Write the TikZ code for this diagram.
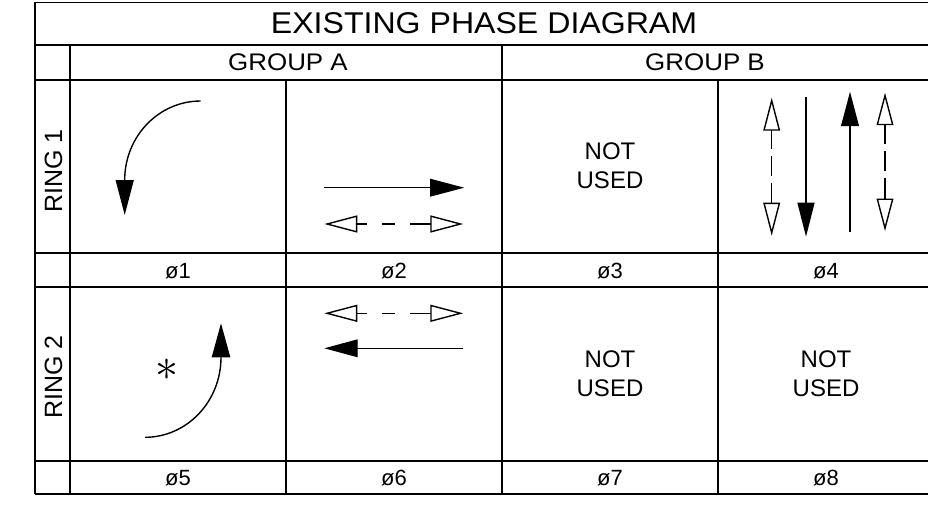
\documentclass[tikz,border=0pt]{standalone}
\usepackage{fontspec}
\setmainfont{Liberation Sans}
\usetikzlibrary{arrows.meta}
\begin{document}
\begin{tikzpicture}[x=1pt,y=-1pt,
  grid/.style={line width=1.7pt},
  sym/.style={line width=1.4pt},
  titletext/.style={font=\fontsize{30}{32}\selectfont, inner sep=0pt},
  grouptext/.style={font=\fontsize{24}{26}\selectfont, inner sep=0pt},
  ringtext/.style={font=\fontsize{25}{27}\selectfont, inner sep=0pt, rotate=90},
  unusedtext/.style={font=\fontsize{24}{28.7}\selectfont, inner sep=0pt, align=center},
  phasetext/.style={font=\fontsize{22}{24}\selectfont, inner sep=0pt},
  hdashed/.style={dash pattern=on 10pt off 15pt on 13pt off 15pt on 40pt},
  vdashed/.style={dash pattern=on 19pt off 7pt on 20pt off 7pt on 40pt},
]
\useasboundingbox (0,0) rectangle (928,508);
\clip (0,0) rectangle (928,508);

% ---------- grid ----------
\draw[grid] (35,2.5) -- (940,2.5);
\draw[line width=2.1pt] (35,45) -- (940,45);
\draw[grid] (35,80) -- (940,80);
\draw[grid] (35,253) -- (940,253);
\draw[grid] (35,287) -- (940,287);
\draw[grid] (35,461) -- (940,461);
\draw[grid] (35,494) -- (940,494);
\draw[line width=1.9pt] (35,2.5) -- (35,494);
\draw[grid] (70,45) -- (70,494);
\draw[grid] (286,80) -- (286,494);
\draw[grid] (502,45) -- (502,494);
\draw[grid] (718,80) -- (718,494);

% ---------- headings ----------
\node[titletext] (title) at (484,23.5) {\scalebox{1.07}[1]{EXISTING PHASE DIAGRAM}};
\node[grouptext] (ga) at (288,62.5) {\scalebox{1.08}[1]{GROUP A}};
\node[grouptext] (gb) at (705,62.5) {\scalebox{1.08}[1]{GROUP B}};
\node[ringtext] (r1) at (53.5,171) {RING 1};
\node[ringtext] (r2) at (53.5,377) {RING 2};

% ---------- phase labels ----------
\node[phasetext] (p1) at (178,271) {ø1};
\node[phasetext] (p2) at (394,271) {ø2};
\node[phasetext] (p3) at (610,271) {ø3};
\node[phasetext] (p4) at (826,271) {ø4};
\node[phasetext] (p5) at (178,478) {ø5};
\node[phasetext] (p6) at (394,478) {ø6};
\node[phasetext] (p7) at (610,478) {ø7};
\node[phasetext] (p8) at (826,478) {ø8};

% ---------- not used ----------
\node[unusedtext] (n3) at (610,166) {NOT\\USED};
\node[unusedtext] (n7) at (610,374) {NOT\\USED};
\node[unusedtext] (n8) at (826,374) {NOT\\USED};

% ---------- phase 1 ----------
\draw[sym, -{Triangle[length=35pt,width=18pt]}]
  (200.7,101) arc[start angle=90, end angle=180, x radius=76pt, y radius=79pt] -- (124.7,215);

% ---------- phase 2 ----------
\draw[sym, -{Triangle[length=34.3pt,width=17.7pt]}] (324.3,187.7) -- (464.3,187.7);
\draw[sym, hdashed, {Triangle[open,length=33pt,width=17pt]}-{Triangle[open,length=33pt,width=17pt]}]
  (324.3,224) -- (463.3,224);

% ---------- phase 4 ----------
\draw[sym, vdashed, {Triangle[open,length=33pt,width=16.7pt]}-{Triangle[open,length=33pt,width=16.7pt]}]
  (771.7,97.7) -- (771.7,235.7);
\draw[sym, -{Triangle[length=34pt,width=17pt]}] (806,97.3) -- (806,236.7);
\draw[sym, -{Triangle[length=34.3pt,width=17.7pt]}] (850,231.7) -- (850,91.7);
\draw[sym, vdashed, {Triangle[open,length=32.5pt,width=16.7pt]}-{Triangle[open,length=32.5pt,width=16.7pt]}]
  (885,92.7) -- (885,231);

% ---------- phase 5 ----------
\draw[sym, -{Triangle[length=34pt,width=18.3pt]}]
  (145,437.3) arc[start angle=270, end angle=360, x radius=76pt, y radius=80pt] -- (221,323.3);
\node[inner sep=0pt] (star) at (167.3,369.3) {\scalebox{4.6}{\(\ast\)}};

% ---------- phase 6 ----------
\draw[sym, hdashed, {Triangle[open,length=33pt,width=17pt]}-{Triangle[open,length=33pt,width=17pt]}]
  (324.3,313.3) -- (463.3,313.3);
\draw[sym, -{Triangle[length=33.4pt,width=17.7pt]}] (463.3,348.3) -- (324.3,348.3);
\end{tikzpicture}
\end{document}
